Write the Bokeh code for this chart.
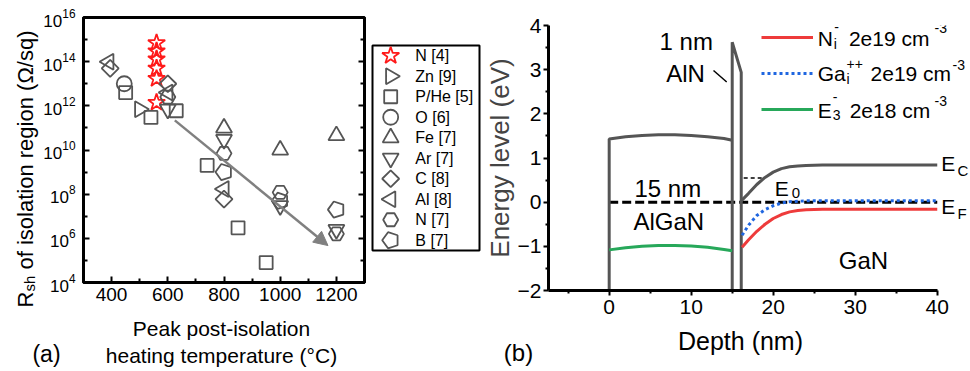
import math
from bokeh.plotting import figure
from bokeh.models import (Range1d, FactorRange, FixedTicker, LogAxis, Label, Arrow,
                          NormalHead, Legend, LegendItem, Spacer, CustomJSTickFormatter)
from bokeh.layouts import row, column
from bokeh.embed import file_html
from bokeh.resources import INLINE
from bokeh.core.properties import value

FONT = "Liberation Sans"
GRAY = "#555555"
RED = "#ff1a1a"
CURVE_RED = "#ee3b3b"
BLUE = "#1f66e0"
GREEN = "#27a85a"

# ---------------- panel (a) data ----------------
a_x_ticks = [400, 600, 800, 1000, 1200]
a_x_minor = [500, 700, 900, 1100]
a_y_ticks = [1e4, 1e6, 1e8, 1e10, 1e12, 1e14, 1e16]
a_y_minor = [1e5, 1e7, 1e9, 1e11, 1e13, 1e15]

n4_temp = [560, 560, 560, 560, 560, 560]
n4_rsh = [7e14, 3e14, 1.3e14, 5e13, 1.7e13, 1.4e12]
zn9_temp = [500]
zn9_rsh = [7e11]
phe5_temp = [450, 540, 630, 740, 850, 950]
phe5_rsh = [4e12, 3e11, 6e11, 2e9, 3e6, 8e4]
o6_temp = [445]
o6_rsh = [1e13]
fe7_temp = [800, 1000, 1200]
fe7_rsh = [1e11, 1e10, 4.5e10]
ar7_temp = [600, 800, 1000, 1200]
ar7_rsh = [7e11, 3e10, 3e7, 2.5e6]
c8_temp = [395, 600, 800]
c8_rsh = [5e13, 1e13, 6e7]
al8_temp = [390, 600, 800]
al8_rsh = [1e14, 4e12, 1.7e8]
n7_temp = [600, 800, 1000, 1200]
n7_rsh = [2.5e12, 7e9, 1.2e8, 1.6e6]
b7_temp = [800, 1000, 1200]
b7_rsh = [1e9, 5e7, 2e7]
trend_temp = [625, 1170]
trend_rsh = [2.2e11, 4.7e5]

legend_labels = ["N [4]", "Zn [9]", "P/He [5]", "O [6]", "Fe [7]",
                 "Ar [7]", "C [8]", "Al [8]", "N [7]", "B [7]"]

# ---------------- panel (b) data ----------------
b_x_ticks = [0, 10, 20, 30, 40]
b_x_minor = [-5, 5, 15, 25, 35]
b_y_ticks = [-2, -1, 0, 1, 2, 3, 4]
b_y_minor = [-1.5, -0.5, 0.5, 1.5, 2.5, 3.5]

ec_algan_x = [0, 0, 2, 4, 6, 8, 10, 12, 14, 15]
ec_algan_y = [-2, 1.43, 1.48, 1.51, 1.525, 1.525, 1.51, 1.48, 1.44, 1.40]
barrier_x = [15, 15, 16.1, 16.1]
barrier_y = [-2, 3.62, 2.94, -2]
ec_gan_x = [16.1, 17, 18, 19, 20, 21, 22, 23, 24, 26, 30, 40]
ec_gan_y = [0.03, 0.20, 0.40, 0.56, 0.68, 0.76, 0.80, 0.82, 0.83, 0.84, 0.84, 0.84]
ef_x = [0, 40]
ef_y = [0, 0]
e0_x = [16.4, 18.7]
e0_y = [0.55, 0.55]
ni_x = [16.2, 17, 18, 19, 20, 21, 22, 23, 24, 26, 30, 40]
ni_y = [-1.02, -0.85, -0.66, -0.50, -0.37, -0.28, -0.22, -0.19, -0.17, -0.16, -0.16, -0.16]
gai_x = [16.2, 17, 18, 19, 20, 21, 22, 24, 26, 30, 40]
gai_y = [-0.75, -0.52, -0.30, -0.17, -0.08, -0.02, 0.01, 0.03, 0.03, 0.03, 0.03]
e3_x = [0, 2, 4, 6, 8, 10, 12, 14, 15]
e3_y = [-1.08, -1.03, -1.00, -0.98, -0.98, -0.99, -1.02, -1.07, -1.10]
aln_ptr_x = [12.72, 14.33]
aln_ptr_y = [2.98, 2.72]

TXT_DY = 5        # px: compensates the rendered offset of alphabetic-anchored text
LABEL_DY = 0.16   # same compensation in panel (b) data units


def text_fig(w, h):
    f = figure(x_range=Range1d(0, w), y_range=Range1d(0, h), frame_width=w, frame_height=h,
               min_border=0, x_axis_type=None, y_axis_type=None, title=None,
               output_backend="svg", toolbar_location=None)
    f.outline_line_color = None
    return f


def add_text(f, x, y, txt, size, align="left", angle=0.0):
    f.text(x=[x], y=[y], text=[txt], angle=angle, text_font=value(FONT),
           text_font_size=size, text_align=align, text_baseline="alphabetic",
           text_color="black")


# ================= panel (a) =================
pa = figure(x_range=Range1d(300, 1300), y_range=Range1d(1e4, 1e16), y_axis_type="log",
            frame_width=281, frame_height=265, min_border_left=41, min_border_right=6,
            min_border_top=17, min_border_bottom=30, title=None, output_backend="svg",
            toolbar_location=None)
pa.xgrid.visible = False
pa.ygrid.visible = False
pa.outline_line_color = "black"
pa.outline_line_width = 3
pa.outline_line_alpha = 1

pa.xaxis.ticker = FixedTicker(ticks=a_x_ticks, minor_ticks=a_x_minor)
pa.yaxis.ticker = FixedTicker(ticks=a_y_ticks, minor_ticks=a_y_minor)
ra = LogAxis(ticker=FixedTicker(ticks=a_y_ticks, minor_ticks=a_y_minor),
             formatter=CustomJSTickFormatter(code="return ''"), major_label_standoff=0)
pa.add_layout(ra, "right")

for ax in [pa.xaxis[0], pa.yaxis[0], ra]:
    ax.axis_line_width = 3
    ax.axis_line_color = "black"
    ax.major_tick_in = 6
    ax.major_tick_out = 0
    ax.minor_tick_in = 4
    ax.minor_tick_out = 0
    ax.major_tick_line_width = 2
    ax.minor_tick_line_width = 2
    ax.major_label_text_font = FONT
    ax.major_label_text_color = "black"
pa.xaxis.major_label_text_font_size = "19px"
pa.yaxis.major_label_text_font_size = "17px"
pa.xaxis.major_label_standoff = 5
pa.yaxis.major_label_standoff = 8

a_series = [
    (n4_temp, n4_rsh, "star", 0.0, 18, RED),
    (zn9_temp, zn9_rsh, "triangle", -math.pi / 2, 16, GRAY),
    (phe5_temp, phe5_rsh, "square", 0.0, 13, GRAY),
    (o6_temp, o6_rsh, "circle", 0.0, 15, GRAY),
    (fe7_temp, fe7_rsh, "triangle", 0.0, 16, GRAY),
    (ar7_temp, ar7_rsh, "inverted_triangle", 0.0, 16, GRAY),
    (c8_temp, c8_rsh, "square", math.pi / 4, 12, GRAY),
    (al8_temp, al8_rsh, "triangle", math.pi / 2, 16, GRAY),
    (n7_temp, n7_rsh, "hex", 0.0, 15, GRAY),
]
for xs, ys, mk, ang, sz, col in a_series:
    pa.scatter(xs, ys, marker=mk, angle=ang, size=sz, line_color=col,
               fill_color=None, line_width=1.8)
pa.ngon(b7_temp, b7_rsh, radius=8.5, radius_units="screen", n=5, angle=math.pi / 2,
        line_color=GRAY, fill_color=None, line_width=1.8)

pa.add_layout(Arrow(x_start=trend_temp[0], y_start=trend_rsh[0],
                    x_end=trend_temp[1], y_end=trend_rsh[1],
                    line_color="#808080", line_width=2.5,
                    end=NormalHead(size=14, fill_color="#808080", line_color="#808080")))

# rotated y-axis title of (a) with subscript
fa_ylab = text_fig(40, 312)
add_text(fa_ylab, 25, 22, "R", "22px", angle=math.pi / 2)
add_text(fa_ylab, 29, 38, "sh", "15px", angle=math.pi / 2)
add_text(fa_ylab, 25, 60, "of isolation region (Ω/sq)", "22px", angle=math.pi / 2)

# two-line x title of (a) and the panel tag
fa_tag = text_fig(88, 57)
add_text(fa_tag, 46, 11 + TXT_DY, "(a)", "23px", align="center")
fa_xlab = text_fig(280, 57)
add_text(fa_xlab, 133, 36 + TXT_DY, "Peak post-isolation", "21px", align="center")
add_text(fa_xlab, 133, 9 + TXT_DY, "heating temperature (°C)", "21px", align="center")

# ================= legend of panel (a) =================
pl = figure(x_range=Range1d(0, 1), y_range=FactorRange(factors=list(reversed(legend_labels))),
            frame_width=107, frame_height=205, min_border=2, x_axis_type=None,
            y_axis_type=None, title=None, output_backend="svg", toolbar_location=None)
pl.outline_line_color = "black"
pl.outline_line_width = 2
pl.outline_line_alpha = 1
for lab, (xs, ys, mk, ang, sz, col) in zip(legend_labels, a_series):
    pl.scatter(0.17, [lab], marker=mk, angle=ang, size=sz, line_color=col,
               fill_color=None, line_width=1.8)
pl.ngon(0.17, [legend_labels[9]], radius=8.5, radius_units="screen", n=5, angle=math.pi / 2,
        line_color=GRAY, fill_color=None, line_width=1.8)
pl.text(x=0.40, y=legend_labels, text=legend_labels, text_font=value(FONT),
        text_font_size="16px", text_baseline="middle", text_align="left", text_color="black")

# ================= panel (b) =================
pb = figure(x_range=Range1d(-7.4, 44.42), y_range=Range1d(-2, 4),
            frame_width=425, frame_height=265, min_border_left=63, min_border_right=2,
            min_border_top=25, min_border_bottom=36, title=None, output_backend="svg",
            toolbar_location=None)
pb.xgrid.visible = False
pb.ygrid.visible = False
pb.outline_line_color = None
pb.xaxis.ticker = FixedTicker(ticks=b_x_ticks, minor_ticks=b_x_minor)
pb.yaxis.ticker = FixedTicker(ticks=b_y_ticks, minor_ticks=b_y_minor)
pb.xaxis.bounds = (-7.4, 40)
for ax in [pb.xaxis[0], pb.yaxis[0]]:
    ax.axis_line_width = 3
    ax.axis_line_color = "black"
    ax.major_tick_in = 0
    ax.major_tick_out = 5
    ax.minor_tick_in = 0
    ax.minor_tick_out = 3
    ax.major_tick_line_width = 2
    ax.minor_tick_line_width = 2
    ax.major_label_text_font = FONT
    ax.major_label_text_font_size = "21px"
    ax.major_label_text_color = "black"
    ax.axis_label_text_font = FONT
    ax.axis_label_text_font_style = "normal"
pb.xaxis.major_label_standoff = 4
pb.yaxis.major_label_standoff = 2
pb.yaxis.axis_label = "Energy level (eV)"
pb.yaxis.axis_label_text_font_size = "26px"
pb.yaxis.axis_label_standoff = 0

pb.line(ef_x, ef_y, line_color="black", line_width=3, line_dash="9 4")
pb.line(e0_x, e0_y, line_color="black", line_width=1.5, line_dash="4 3")
pb.line(ec_algan_x, ec_algan_y, line_color=GRAY, line_width=3)
pb.line(barrier_x, barrier_y, line_color=GRAY, line_width=3)
pb.line(ec_gan_x, ec_gan_y, line_color=GRAY, line_width=3)
r_ni = pb.line(ni_x, ni_y, line_color=CURVE_RED, line_width=3)
r_ga = pb.line(gai_x, gai_y, line_color=BLUE, line_width=3, line_dash="3 3")
r_e3 = pb.line(e3_x, e3_y, line_color=GREEN, line_width=3)
pb.line(aln_ptr_x, aln_ptr_y, line_color="black", line_width=1.5)

# legend keys (labels are written as rich text below)
leg = Legend(items=[LegendItem(label=" ", renderers=[r_ni]),
                    LegendItem(label=" ", renderers=[r_ga]),
                    LegendItem(label=" ", renderers=[r_e3])],
             location=(213, 169), glyph_width=52, glyph_height=24, label_height=24,
             spacing=12, padding=0, margin=0, label_standoff=0, label_width=0,
             label_text_font=FONT, label_text_font_size="4px",
             border_line_alpha=0, background_fill_alpha=0)
pb.add_layout(leg)


def blabel(x, y, txt, size, align="left"):
    pb.add_layout(Label(x=x, y=y + LABEL_DY, text=txt, text_font=FONT, text_font_size=size,
                        text_align=align, text_baseline="alphabetic", text_color="black"))


# legend texts with sub/superscripts
for x, y, txt, size in [
        (25.42, 3.547, "N", "21px"), (27.37, 3.411, "i", "14px"), (27.43, 3.796, "-", "14px"),
        (29.23, 3.547, "2e19 cm", "21px"), (39.67, 3.774, "-3", "14px"),
        (25.42, 2.755, "Ga", "21px"), (28.95, 2.619, "i", "14px"), (28.95, 2.959, "++", "14px"),
        (31.87, 2.755, "2e19 cm", "21px"), (41.86, 2.936, "-3", "14px"),
        (25.42, 1.917, "E", "21px"), (27.25, 1.804, "3", "14px"), (27.25, 2.211, "-", "14px"),
        (29.32, 1.917, "2e18 cm", "21px"), (39.67, 2.121, "-3", "14px")]:
    blabel(x, y, txt, size)

# region annotations
for txt, x, y in [("1 nm", 9.4, 3.48), ("AlN", 9.3, 2.755), ("15 nm", 7.15, 0.16),
                  ("AlGaN", 7.27, -0.60), ("GaN", 31.0, -1.47)]:
    blabel(x, y, txt, "24px", align="center")
for txt, x, y, fs in [("E", 40.5, 0.717, "21px"), ("C", 42.47, 0.559, "15px"),
                      ("E", 40.5, -0.256, "21px"), ("F", 42.47, -0.415, "15px"),
                      ("E", 20.18, 0.151, "21px"), ("0", 22.25, 0.038, "15px")]:
    blabel(x, y, txt, fs)

fb_tag = text_fig(63, 43)
add_text(fb_tag, 37, 12 + TXT_DY, "(b)", "24px", align="center")
fb_xlab = text_fig(427, 43)
add_text(fb_xlab, 196, 24 + TXT_DY, "Depth (nm)", "25px", align="center")

col_a = column(row(fa_ylab, pa), row(fa_tag, fa_xlab))
col_l = column(Spacer(width=111, height=43), pl)
col_b = column(pb, row(fb_tag, fb_xlab))
layout = row(col_a, col_l, col_b)
open("out.html", "w").write(file_html(layout, INLINE, title="chart"))
